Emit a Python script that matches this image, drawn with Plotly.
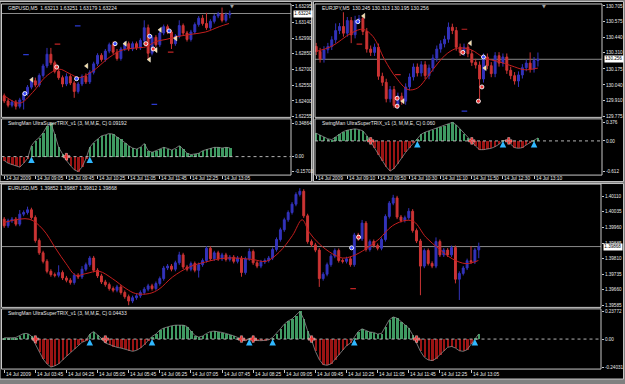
import plotly.graph_objects as go

W, H = 625, 384
SP = 3.89  # pixels per bar
FONT = "Liberation Sans"
BLUE = "#3333bb"
RED = "#cc3434"
MA_RED = "#c41e1e"
GREEN = "#3f9a62"
DRED = "#9a1414"
TXT = "#e8e8e8"
FRAME = "#c8c8c8"


def fx(px):
    return px / W


def fy(py):
    return 1 - py / H


# ======================= GBPUSD,M5 =======================
gbp_title = "GBPUSD,M5  1.63213 1.63251 1.63179 1.63224"
gbp_open0 = 1.6245
gbp_close = [1.6240, 1.6236, 1.6239, 1.6235, 1.6241, 1.6247, 1.6253, 1.6259, 1.6255, 1.6264,
             1.6273, 1.6284, 1.6276, 1.6268, 1.6262, 1.6256, 1.6263, 1.6257, 1.6249, 1.6256,
             1.6263, 1.6258, 1.6267, 1.6275, 1.6283, 1.6279, 1.6287, 1.6293, 1.6286, 1.6280,
             1.6289, 1.6294, 1.6289, 1.6294, 1.6290, 1.6297, 1.6309, 1.6285, 1.6300, 1.6293,
             1.6304, 1.6310, 1.6305, 1.6294, 1.6301, 1.6311, 1.6304, 1.6298, 1.6305, 1.6312,
             1.6318, 1.6313, 1.6309, 1.6315, 1.6320, 1.6322, 1.6316, 1.63213, 1.63224]
gbp_wick_up = [2, 2, 2, 2, 2, 2, 2, 2, 3, 2, 2, 6, 6, 2, 2, 2, 3, 2, 2, 2,
               2, 3, 2, 2, 2, 2, 2, 2, 3, 3, 2, 2, 2, 2, 2, 2, 7, 3, 2, 2,
               2, 2, 2, 2, 2, 5, 2, 2, 2, 2, 2, 3, 10, 2, 2, 2, 6, 2, 2.7]
gbp_wick_dn = [2, 2, 2, 3, 2, 9, 2, 2, 2, 2, 2, 2, 2, 2, 2, 3, 2, 2, 6, 2,
               2, 2, 2, 2, 2, 2, 2, 2, 2, 2, 2, 2, 2, 2, 2, 2, 2, 6, 2, 2,
               2, 2, 2, 5, 2, 2, 2, 2, 2, 2, 2, 2, 2, 2, 2, 2, 2, 2, 3.4]
gbp_pip = 0.0001
gbp_ma_bar = [0, 4, 7.3, 10.7, 14.1, 16.7, 19.3, 22.7, 27, 30.4, 33.9, 36.4, 39, 41.6, 45, 48.4, 51.8, 55.3, 57.8]
gbp_ma = [1.6245, 1.6238, 1.6248, 1.6263, 1.6270, 1.6266, 1.6262, 1.6268, 1.6281, 1.6288,
          1.6290, 1.6291, 1.6296, 1.6298, 1.6301, 1.6303, 1.6305, 1.6310, 1.6313]
gbp_last = 1.63224
gbp_price_ticks = [1.63295, 1.63140, 1.62990, 1.62850, 1.62700, 1.62550, 1.62400, 1.62255]
gbp_price_labels = ["1.63295", "1.63140", "1.62990", "1.62850", "1.62700", "1.62550", "1.62400", "1.62255"]
gbp_trix_title = "SwingMan UltraSuperTRIX_v1 (3, M,M,E, C) 0.09192"
gbp_trix = [-0.041, -0.069, -0.083, -0.093, -0.11, -0.07, -0.02, 0.114, 0.166, 0.20,
            0.25, 0.32, 0.3486, 0.235, 0.097, 0.028, -0.041, -0.093, -0.138, -0.157,
            -0.11, -0.024, 0.097, 0.148, 0.183, 0.217, 0.228, 0.242, 0.235, 0.207,
            0.183, 0.148, 0.114, 0.09, 0.079, 0.097, 0.138, 0.062, 0.045, 0.062,
            0.083, 0.097, 0.086, 0.069, 0.086, 0.114, 0.079, 0.035, 0.021, 0.028,
            0.035, 0.062, 0.076, 0.09, 0.097, 0.097, 0.09, 0.097, 0.0919]
gbp_trix_ticks = [0.34864, 0.0, -0.15703]
gbp_trix_labels = ["0.34864", "0.00", "-0.15703"]
gbp_up_bars = [7, 22]
gbp_dn_bars = [16]
gbp_time_bars = [0, 8, 16, 24, 32, 40, 48, 56]
gbp_time_labels = ["14 Jul 2009", "14 Jul 09:05", "14 Jul 09:45", "14 Jul 10:25",
                   "14 Jul 11:05", "14 Jul 11:45", "14 Jul 12:25", "14 Jul 13:05"]
gbp_bdot_bar = [5.3, 18.6, 28.5, 37.4, 42.4]
gbp_bdot_val = [1.6247, 1.6261, 1.6294, 1.6301, 1.6306]
gbp_rdot_bar = [13.5, 36.4, 38.3]
gbp_rdot_val = [1.6272, 1.6294, 1.6289]
gbp_tri_bar = [7.1, 21.2, 31.1, 37.3, 39, 40.1, 44.1]
gbp_tri_val = [1.6260, 1.6273, 1.6294, 1.6279, 1.6288, 1.6307, 1.6299]
gbp_bdash_bar = [5.6, 18.9, 38.6]
gbp_bdash_val = [1.62836, 1.63108, 1.62368]
gbp_rdash_bar = [13.7, 42.8]
gbp_rdash_val = [1.62936, 1.62861]

# ======================= EURJPY,M5 =======================
jpy_title = "EURJPY,M5  130.245 130.313 130.195 130.256"
jpy_open0 = 130.364
jpy_close = [130.322, 130.258, 130.336, 130.364, 130.420, 130.498, 130.532, 130.476, 130.582, 130.462,
             130.582, 130.599, 130.490, 130.342, 130.314, 130.358, 130.113, 130.062, 129.923, 130.001,
             129.867, 129.945, 129.903, 130.023, 130.107, 130.191, 130.141, 130.210, 130.118, 130.182,
             130.266, 130.342, 130.386, 130.425, 130.526, 130.498, 130.358, 130.314, 130.358, 130.303,
             130.230, 130.208, 130.090, 130.275, 130.202, 130.135, 130.286, 130.224, 130.275, 130.163,
             130.118, 130.073, 130.124, 130.185, 130.224, 130.174, 130.245, 130.256]
jpy_wick_up = [3, 3, 3, 3, 3, 6, 3, 12, 3, 3, 4, 3, 3, 3, 3, 3, 3, 3, 3, 3,
               3, 3, 3, 3, 3, 3, 3, 3, 3, 3, 3, 3, 3, 3, 4, 3, 3, 3, 3, 3,
               3, 3, 3, 3, 3, 3, 3, 3, 3, 3, 3, 3, 3, 3, 3, 9, 3, 5.7]
jpy_wick_dn = [3, 3, 3, 3, 3, 3, 3, 3, 3, 7, 3, 3, 3, 3, 3, 3, 3, 3, 3, 3,
               2, 3, 3, 3, 3, 3, 3, 3, 3, 3, 3, 3, 3, 3, 3, 3, 3, 3, 3, 3,
               3, 3, 17, 3, 3, 3, 3, 3, 3, 3, 3, 3, 5, 3, 3, 3, 3, 5]
jpy_pip = 0.01
jpy_ma_bar = [0, 3.9, 9, 12, 14.6, 17.6, 20.6, 23.6, 26.1, 28.7, 31.3, 33.8, 36.4, 39.8, 43.3, 46.7, 50.1, 53.6, 57]
jpy_ma = [130.322, 130.364, 130.476, 130.509, 130.448, 130.252, 130.099, 130.001, 130.015, 130.113,
          130.224, 130.308, 130.350, 130.336, 130.266, 130.238, 130.202, 130.168, 130.182]
jpy_last = 130.256
jpy_price_ticks = [130.705, 130.575, 130.440, 130.310, 130.175, 130.040, 129.910, 129.775]
jpy_price_labels = ["130.705", "130.575", "130.440", "130.310", "130.175", "130.040", "129.910", "129.775"]
jpy_trix_title = "SwingMan UltraSuperTRIX_v1 (3, M,M,E, C) 0.060"
jpy_trix = [0.156, 0.122, 0.082, 0.041, 0.027, 0.082, 0.15, 0.19, 0.218, 0.238,
            0.245, 0.231, 0.204, 0.109, -0.014, -0.15, -0.286, -0.408, -0.524, -0.612,
            -0.558, -0.456, -0.34, -0.231, -0.136, -0.048, 0.041, 0.136, 0.177, 0.204,
            0.231, 0.258, 0.286, 0.313, 0.354, 0.376, 0.326, 0.245, 0.15, 0.068,
            -0.01, -0.109, -0.177, -0.177, -0.163, -0.15, -0.116, -0.068, 0.005, 0.014,
            -0.068, -0.136, -0.15, -0.136, -0.082, -0.027, 0.014, 0.060]
jpy_trix_ticks = [0.376, 0.0, -0.612]
jpy_trix_labels = ["0.376", "0.00", "-0.612"]
jpy_up_bars = [26, 48, 56]
jpy_dn_bars = [14, 40, 49.5]
jpy_time_bars = [0, 8, 16, 24, 32, 40, 48, 56]
jpy_time_labels = ["14 Jul 2009", "14 Jul 09:10", "14 Jul 09:50", "14 Jul 10:30",
                   "14 Jul 11:10", "14 Jul 11:50", "14 Jul 12:30", "14 Jul 13:10"]
jpy_bdot_bar = [10.7, 43]
jpy_bdot_val = [130.573, 130.275]
jpy_rdot_bar = [20.8, 20.8, 37.7, 41.7, 42.6]
jpy_rdot_val = [129.928, 129.861, 130.314, 129.903, 130.023]
jpy_tri_bar = [12.2, 22.3, 39.6, 43.4]
jpy_tri_val = [130.621, 129.903, 130.392, 130.182]
jpy_bdash_bar = [38.1]
jpy_bdash_val = [129.819]
jpy_rdash_bar = [11.1, 21, 38.1]
jpy_rdash_val = [130.384, 130.127, 130.509]

# ======================= EURUSD,M5 =======================
eu_title = "EURUSD,M5  1.39852 1.39887 1.39812 1.39868"
eu_open0 = 1.40000
eu_close = [1.39968, 1.39992, 1.40000, 1.39976, 1.40024, 1.40032, 1.40045, 1.40008, 1.39897, 1.39838,
            1.39797, 1.39749, 1.39733, 1.39730, 1.39743, 1.39717, 1.39706, 1.39695, 1.39730, 1.39722,
            1.39759, 1.39781, 1.39813, 1.39754, 1.39727, 1.39698, 1.39685, 1.39666, 1.39658, 1.39674,
            1.39647, 1.39627, 1.39606, 1.39622, 1.39631, 1.39647, 1.39663, 1.39679, 1.39666, 1.39690,
            1.39714, 1.39765, 1.39774, 1.39759, 1.39790, 1.39828, 1.39770, 1.39759, 1.39786, 1.39754,
            1.39781, 1.39801, 1.39860, 1.39809, 1.39838, 1.39809, 1.39828, 1.39806, 1.39817, 1.39797,
            1.39813, 1.39743, 1.39809, 1.39844, 1.39790, 1.39774, 1.39794, 1.39801, 1.39813, 1.39854,
            1.39902, 1.39949, 1.39997, 1.40032, 1.40072, 1.40119, 1.40134, 1.40016, 1.39892, 1.39876,
            1.39851, 1.39714, 1.39735, 1.39781, 1.39822, 1.39849, 1.39801, 1.39797, 1.39809, 1.39781,
            1.39924, 1.39905, 1.39981, 1.39854, 1.39892, 1.39873, 1.39860, 1.39902, 1.40013, 1.40077,
            1.40102, 1.40010, 1.39994, 1.40007, 1.40038, 1.39945, 1.39895, 1.39774, 1.39849, 1.39787,
            1.39774, 1.39892, 1.39828, 1.39851, 1.39828, 1.39863, 1.39711, 1.39739, 1.39765, 1.39800,
            1.39794, 1.39852, 1.39868]
eu_wick_up = [1, 1, 1, 1, 2, 1, 1.5, 1, 1, 1, 1, 1, 1, 1, 3.5, 1, 1, 1, 1, 1,
              1.5, 1, 1, 1, 1, 1, 1, 1, 1, 1, 1, 1, 1, 1, 1, 1, 1, 1, 1, 1,
              1, 1, 1, 1, 1, 1.5, 1, 1, 1, 1, 1, 1, 1, 1, 1, 1, 1, 1, 1, 1,
              1, 1, 1, 1.5, 1, 1, 1, 1, 1, 1, 1, 1, 1, 1, 1, 1, 1.5, 1, 1, 1,
              1, 1, 1, 1, 1, 1, 1, 1, 1, 1, 1, 1, 1.5, 1, 1, 1, 1, 1, 1, 1,
              1.5, 1, 1, 1, 1.5, 1, 1, 1, 1, 1, 1, 2, 1, 1, 1, 1, 1, 1, 1, 1,
              7, 1, 1.9]
eu_wick_dn = [1, 1, 1, 1, 1, 1, 1, 1, 1, 1, 1, 1, 1, 1, 1, 1, 1, 1, 1, 1,
              1, 1, 1, 1, 1, 1, 1, 1, 1, 1, 1, 1, 2, 1, 1, 1, 1, 1, 1, 1,
              1, 1, 1, 1, 1, 1, 1, 1, 1, 1, 3.5, 1, 1, 1, 1, 1, 1, 1, 1, 1,
              1, 2, 1, 1, 1, 1, 1, 1, 1, 1, 1, 1, 1, 1, 1, 1, 1, 1, 1, 1,
              1, 4, 1, 1, 1, 1, 1, 1, 1, 1, 1, 1, 1, 1, 1, 1, 1, 1, 1, 1,
              1, 1, 1, 1, 1, 1, 1, 14, 1, 1, 1, 1, 1, 1, 1, 1, 2, 10, 1, 1,
              1, 1, 4]
eu_pip = 0.0001
eu_ma_bar = [0, 6.4, 9.9, 13.3, 15.9, 18.4, 21, 24.4, 27.8, 31.3, 33.8, 37.3, 39.8, 43.3, 47.6, 51.8,
             57, 63.8, 67.3, 70.7, 74.1, 76.6, 78.4, 81, 84.4, 87, 89.5, 93, 96.4, 99.8, 103.3, 105.4,
             108.4, 111.8, 115.2, 118.7, 121.9]
eu_ma = [1.39984, 1.40000, 1.39952, 1.39857, 1.39786, 1.39730, 1.39738, 1.39749, 1.39714, 1.39666,
         1.39642, 1.39642, 1.39663, 1.39722, 1.39770, 1.39794, 1.39813, 1.39806, 1.39797, 1.39841,
         1.39921, 1.39997, 1.39937, 1.39881, 1.39833, 1.39813, 1.39822, 1.39857, 1.39905, 1.39968,
         1.39994, 1.39987, 1.39913, 1.39857, 1.39809, 1.39786, 1.39801]
eu_last = 1.39868
eu_price_ticks = [1.40110, 1.40035, 1.39960, 1.39885, 1.39810, 1.39735, 1.39660, 1.39585]
eu_price_labels = ["1.40110", "1.40035", "1.39960", "1.39885", "1.39810", "1.39735", "1.39660", "1.39585"]
eu_trix_title = "SwingMan UltraSuperTRIX_v1 (3, M,M,E, C) 0.04433"
eu_trix = [0.011, 0.009, 0.011, 0.014, 0.031, 0.048, 0.048, 0.026, -0.043, -0.111,
           -0.171, -0.213, -0.2403, -0.230, -0.213, -0.179, -0.148, -0.114, -0.082, -0.054,
           -0.028, -0.014, 0.043, 0.065, 0.037, 0.006, -0.034, -0.048, -0.063, -0.071,
           -0.077, -0.088, -0.1, -0.105, -0.097, -0.077, -0.048, -0.014, 0.023, 0.043,
           0.077, 0.094, 0.105, 0.114, 0.119, 0.122, 0.119, 0.108, 0.071, 0.031,
           0.017, 0.026, 0.048, 0.065, 0.068, 0.065, 0.057, 0.048, 0.04, 0.028,
           0.014, -0.009, -0.014, 0.003, -0.011, -0.014, -0.014, -0.011, -0.006, 0.014,
           0.048, 0.088, 0.128, 0.156, 0.173, 0.202, 0.2377, 0.173, 0.071, -0.006,
           -0.105, -0.176, -0.219, -0.225, -0.213, -0.176, -0.134, -0.091, -0.057, -0.034,
           0.014, 0.065, 0.088, 0.071, 0.06, 0.057, 0.043, 0.048, 0.108, 0.165,
           0.19, 0.179, 0.151, 0.122, 0.094, 0.037, -0.034, -0.105, -0.156, -0.179,
           -0.185, -0.168, -0.134, -0.1, -0.071, -0.063, -0.077, -0.1, -0.105, -0.091,
           -0.043, 0.003, 0.0443]
eu_trix_ticks = [0.23772, 0.0, -0.24031]
eu_trix_labels = ["0.23772", "0.00", "-0.24031"]
eu_up_bars = [22, 38, 63, 69, 90, 121]
eu_dn_bars = [8, 26, 61, 64, 79, 106]
eu_time_bars = [0, 8, 16, 24, 32, 40, 48, 56, 64, 72, 80, 88, 96, 104, 112, 120]
eu_time_labels = ["14 Jul 2009", "14 Jul 03:45", "14 Jul 04:25", "14 Jul 05:05", "14 Jul 05:45",
                  "14 Jul 06:25", "14 Jul 07:05", "14 Jul 07:45", "14 Jul 08:25", "14 Jul 09:05",
                  "14 Jul 09:45", "14 Jul 10:25", "14 Jul 11:05", "14 Jul 11:45", "14 Jul 12:25",
                  "14 Jul 13:05"]
eu_bdot_bar = [89.3]
eu_bdot_val = [1.39862]
eu_rdot_bar = [91.1]
eu_rdot_val = [1.39913]
eu_tri_bar = []
eu_tri_val = []
eu_bdash_bar = []
eu_bdash_val = []
eu_rdash_bar = [89.7]
eu_rdash_val = [1.39666]

# ======================= figure =======================
fig = go.Figure()
shapes = []
annotations = []
axes = {}


def axid(n):
    return "x" if n == 1 else f"x{n}"


def ayid(n):
    return "y" if n == 1 else f"y{n}"


def axkey(n):
    return "xaxis" if n == 1 else f"xaxis{n}"


def aykey(n):
    return "yaxis" if n == 1 else f"yaxis{n}"


def yrange(lbl, dom):
    v_top, p_top, v_bot, p_bot = lbl
    d_top, d_bot = dom
    k = (p_bot - p_top) / (v_top - v_bot)
    return [v_bot - (d_bot - p_bot) / k, v_top + (p_top - d_top) / k]


def panel(nm, ni, geo, d):
    L, R, b0 = geo["L"], geo["R"], geo["bar0"]
    xr = [(L - b0) / SP, (R - b0) / SP]
    close = d["close"]
    bars = list(range(len(close)))
    opens = [d["open0"]] + close[:-1]
    highs = [max(o, c) + u * d["pip"] for o, c, u in zip(opens, close, d["wup"])]
    lows = [min(o, c) - w * d["pip"] for o, c, w in zip(opens, close, d["wdn"])]
    xm, ym, xi, yi = axid(nm), ayid(nm), axid(ni), ayid(ni)

    fig.add_trace(go.Candlestick(
        x=bars, open=opens, high=highs, low=lows, close=close, xaxis=xm, yaxis=ym,
        increasing=dict(line=dict(color=BLUE, width=1), fillcolor=BLUE),
        decreasing=dict(line=dict(color=RED, width=1), fillcolor=RED),
        whiskerwidth=0, hoverinfo="none"))
    fig.add_trace(go.Scatter(x=d["ma_bar"], y=d["ma"], mode="lines", xaxis=xm, yaxis=ym,
                             line=dict(color=MA_RED, width=1, shape="spline", smoothing=1.0),
                             hoverinfo="none"))
    marks = [
        (d["bdash_bar"], d["bdash_val"], "line-ew", 4, "rgba(0,0,0,0)", "#2c3ad0", 1.2),
        (d["rdash_bar"], d["rdash_val"], "line-ew", 4, "rgba(0,0,0,0)", "#c02424", 1.2),
        (d["tri_bar"], d["tri_val"], "triangle-left", 4.5, "#f6dca0", "#ffffff", 0.4),
        (d["bdot_bar"], d["bdot_val"], "circle", 4, "#3848ff", "#ffffff", 0.9),
        (d["rdot_bar"], d["rdot_val"], "circle", 4, "#f03a3a", "#ffffff", 0.9),
    ]
    for bx, by, sym, sz, col, lc, lw in marks:
        if bx:
            fig.add_trace(go.Scatter(x=bx, y=by, mode="markers", xaxis=xm, yaxis=ym,
                                     marker=dict(symbol=sym, size=sz, color=col,
                                                 line=dict(color=lc, width=lw)),
                                     hoverinfo="none"))

    trix = d["trix"]
    fig.add_trace(go.Bar(x=bars, y=trix, xaxis=xi, yaxis=yi, width=0.62,
                         marker=dict(color=[GREEN if v >= 0 else DRED for v in trix], line=dict(width=0)),
                         hoverinfo="none"))
    fig.add_trace(go.Scatter(x=bars, y=trix, mode="lines", xaxis=xi, yaxis=yi,
                             line=dict(color="#8e8e8e", width=0.8), hoverinfo="none"))
    fig.add_trace(go.Scatter(x=d["up_bars"], y=[0] * len(d["up_bars"]), mode="markers", xaxis=xi, yaxis=yi,
                             marker=dict(symbol="arrow-up", size=6.5, color="#30b8ff",
                                         line=dict(color="#30b8ff", width=0)), hoverinfo="none"))
    fig.add_trace(go.Scatter(x=d["dn_bars"], y=[0] * len(d["dn_bars"]), mode="markers", xaxis=xi, yaxis=yi,
                             marker=dict(symbol="cross", size=5.5, color="#f02828",
                                         line=dict(color="#ffffff", width=0.4)), hoverinfo="none"))

    # axes
    xdom = [fx(L), fx(R)]
    mtop, mbot = geo["main"]
    itop, ibot = geo["ind"]
    axes[axkey(nm)] = dict(domain=xdom, range=xr, anchor=ym, showgrid=False, zeroline=False,
                          showline=False, showticklabels=False, ticks="", rangeslider=dict(visible=False))
    axes[axkey(ni)] = dict(domain=xdom, range=xr, anchor=yi, showgrid=False, zeroline=False,
                          showline=False, showticklabels=False, ticks="outside", ticklen=3,
                          tickcolor=FRAME, tickwidth=1, tickmode="array", tickvals=d["time_bars"])
    tfont = dict(family=FONT, size=4.6, color=TXT)
    axes[aykey(nm)] = dict(domain=[fy(mbot), fy(mtop)], range=yrange(geo["main_lbl"], geo["main"]),
                          anchor=xm, side="right", showgrid=False, zeroline=False, showline=False,
                          tickmode="array", tickvals=d["price_ticks"], ticktext=d["price_labels"],
                          ticks="outside", ticklen=2, tickcolor=FRAME, tickfont=tfont)
    axes[aykey(ni)] = dict(domain=[fy(ibot), fy(itop)], range=yrange(geo["ind_lbl"], geo["ind"]),
                          anchor=xi, side="right", showgrid=False, zeroline=False, showline=False,
                          tickmode="array", tickvals=d["trix_ticks"], ticktext=d["trix_labels"],
                          ticks="outside", ticklen=2, tickcolor=FRAME, tickfont=tfont)

    # frames
    for t, b in (geo["main"], geo["ind"]):
        shapes.append(dict(type="rect", xref="paper", yref="paper", x0=fx(L), x1=fx(R),
                           y0=fy(b), y1=fy(t), line=dict(color=FRAME, width=1), layer="above"))
    # current price line and zero line
    shapes.append(dict(type="line", xref=f"{xm} domain", yref=ym, x0=0, x1=1,
                       y0=d["last"], y1=d["last"], line=dict(color="#8a8a8a", width=1), layer="below"))
    shapes.append(dict(type="line", xref=f"{xi} domain", yref=yi, x0=0, x1=1, y0=0, y1=0,
                       line=dict(color="#b4b4b4", width=1, dash="dot"), layer="above"))

    # texts
    annotations.append(dict(xref="paper", yref="paper", x=fx(L + 4.5), y=fy(mtop + 4.2), text=d["title"],
                            showarrow=False, xanchor="left", yanchor="middle",
                            font=dict(family=FONT, size=5, color=TXT)))
    annotations.append(dict(xref="paper", yref="paper", x=fx(L + 4.5), y=fy(itop + 4.5), text=d["trix_title"],
                            showarrow=False, xanchor="left", yanchor="middle",
                            font=dict(family=FONT, size=5, color=TXT)))
    annotations.append(dict(xref="paper", yref=ym, x=fx(R + 1.5), y=d["last"], text=d["last_label"],
                            showarrow=False, xanchor="left", yanchor="middle", bgcolor="#ffffff",
                            borderpad=0.3, font=dict(family=FONT, size=4.6, color="#000000")))
    for bx, lab in zip(d["time_bars"], d["time_labels"]):
        annotations.append(dict(xref=xi, yref="paper", x=bx, y=fy(geo["lab_y"]), text=lab,
                                showarrow=False, xanchor="left", yanchor="middle", xshift=-0.5,
                                font=dict(family=FONT, size=4.8, color=TXT)))
    if geo.get("shift_px"):
        annotations.append(dict(xref="paper", yref="paper", x=fx(geo["shift_px"]), y=fy(6),
                                text="▼", showarrow=False, xanchor="center", yanchor="middle",
                                font=dict(family="DejaVu Sans", size=5, color="#a0a0a0")))


# window backgrounds
for x0, x1, y0, y1 in ((0, 311.5, 1.5, 182.5), (313.5, 623.5, 1.5, 182.5), (0, 623.5, 184.5, 381)):
    shapes.append(dict(type="rect", xref="paper", yref="paper", x0=fx(x0), x1=fx(x1), y0=fy(y1), y1=fy(y0),
                       fillcolor="#000000", line=dict(color="#c4c4c4", width=1), layer="below"))

panel(1, 2,
      dict(L=1.5, R=291, bar0=4.2, main=(4, 118), ind=(119.5, 176), lab_y=179.5,
           main_lbl=(1.63295, 6, 1.62255, 117), ind_lbl=(0.34864, 124, -0.15703, 172.5), shift_px=232),
      dict(title=gbp_title, open0=gbp_open0, close=gbp_close, wup=gbp_wick_up, wdn=gbp_wick_dn, pip=gbp_pip,
           ma_bar=gbp_ma_bar, ma=gbp_ma, last=gbp_last, last_label="1.63224",
           price_ticks=gbp_price_ticks, price_labels=gbp_price_labels,
           trix_title=gbp_trix_title, trix=gbp_trix, trix_ticks=gbp_trix_ticks, trix_labels=gbp_trix_labels,
           up_bars=gbp_up_bars, dn_bars=gbp_dn_bars, time_bars=gbp_time_bars, time_labels=gbp_time_labels,
           bdot_bar=gbp_bdot_bar, bdot_val=gbp_bdot_val, rdot_bar=gbp_rdot_bar, rdot_val=gbp_rdot_val,
           tri_bar=gbp_tri_bar, tri_val=gbp_tri_val, bdash_bar=gbp_bdash_bar, bdash_val=gbp_bdash_val,
           rdash_bar=gbp_rdash_bar, rdash_val=gbp_rdash_val))

panel(3, 4,
      dict(L=315, R=602, bar0=316.2, main=(4, 118), ind=(119.5, 176), lab_y=179.5,
           main_lbl=(130.705, 6, 129.775, 117), ind_lbl=(0.376, 123, -0.612, 172), shift_px=544),
      dict(title=jpy_title, open0=jpy_open0, close=jpy_close, wup=jpy_wick_up, wdn=jpy_wick_dn, pip=jpy_pip,
           ma_bar=jpy_ma_bar, ma=jpy_ma, last=jpy_last, last_label="130.256",
           price_ticks=jpy_price_ticks, price_labels=jpy_price_labels,
           trix_title=jpy_trix_title, trix=jpy_trix, trix_ticks=jpy_trix_ticks, trix_labels=jpy_trix_labels,
           up_bars=jpy_up_bars, dn_bars=jpy_dn_bars, time_bars=jpy_time_bars, time_labels=jpy_time_labels,
           bdot_bar=jpy_bdot_bar, bdot_val=jpy_bdot_val, rdot_bar=jpy_rdot_bar, rdot_val=jpy_rdot_val,
           tri_bar=jpy_tri_bar, tri_val=jpy_tri_val, bdash_bar=jpy_bdash_bar, bdash_val=jpy_bdash_val,
           rdash_bar=jpy_rdash_bar, rdash_val=jpy_rdash_val))

panel(5, 6,
      dict(L=1.5, R=601, bar0=4.2, main=(185, 309), ind=(310.5, 371), lab_y=376,
           main_lbl=(1.40110, 197.3, 1.39585, 307), ind_lbl=(0.23772, 313, -0.24031, 369)),
      dict(title=eu_title, open0=eu_open0, close=eu_close, wup=eu_wick_up, wdn=eu_wick_dn, pip=eu_pip,
           ma_bar=eu_ma_bar, ma=eu_ma, last=eu_last, last_label="1.39868",
           price_ticks=eu_price_ticks, price_labels=eu_price_labels,
           trix_title=eu_trix_title, trix=eu_trix, trix_ticks=eu_trix_ticks, trix_labels=eu_trix_labels,
           up_bars=eu_up_bars, dn_bars=eu_dn_bars, time_bars=eu_time_bars, time_labels=eu_time_labels,
           bdot_bar=eu_bdot_bar, bdot_val=eu_bdot_val, rdot_bar=eu_rdot_bar, rdot_val=eu_rdot_val,
           tri_bar=eu_tri_bar, tri_val=eu_tri_val, bdash_bar=eu_bdash_bar, bdash_val=eu_bdash_val,
           rdash_bar=eu_rdash_bar, rdash_val=eu_rdash_val))

fig.update_layout(
    width=W, height=384, margin=dict(l=0, r=0, t=0, b=0, pad=0),
    paper_bgcolor="#808080", plot_bgcolor="#000000", showlegend=False,
    font=dict(family=FONT, size=5, color=TXT), bargap=0,
    shapes=shapes, annotations=annotations, **axes)

fig.write_html("out.html")
